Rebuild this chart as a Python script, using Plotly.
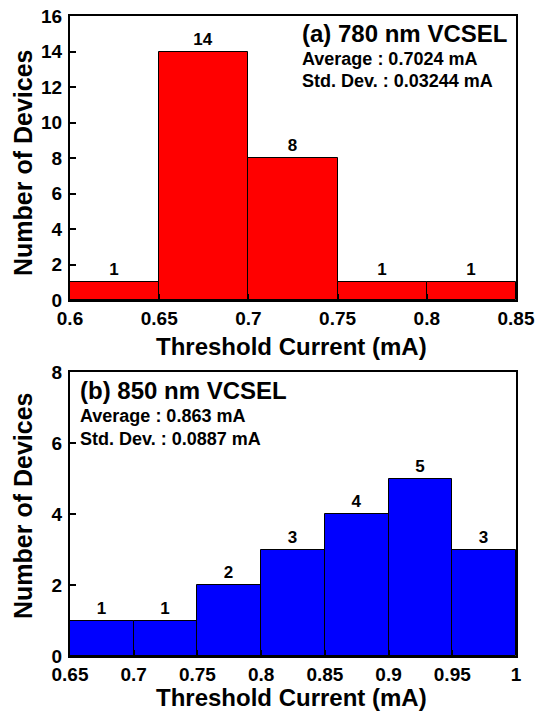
import plotly.graph_objects as go

# Data
bins_a = [0.6, 0.65, 0.7, 0.75, 0.8]          # left edges (mA)
counts_a = [1, 14, 8, 1, 1]
bins_b = [0.65, 0.7, 0.75, 0.8, 0.85, 0.9, 0.95]
counts_b = [1, 1, 2, 3, 4, 5, 3]
bin_width = 0.05

xticks_a = [0.6, 0.65, 0.7, 0.75, 0.8, 0.85]
xticklabels_a = ["0.6", "0.65", "0.7", "0.75", "0.8", "0.85"]
xticks_b = [0.65, 0.7, 0.75, 0.8, 0.85, 0.9, 0.95, 1.0]
xticklabels_b = ["0.65", "0.7", "0.75", "0.8", "0.85", "0.9", "0.95", "1"]
yticks_a = [0, 2, 4, 6, 8, 10, 12, 14, 16]
yticks_b = [0, 2, 4, 6, 8]

label_a = ["(a) 780 nm VCSEL", "Average : 0.7024 mA", "Std. Dev. : 0.03244 mA"]
label_b = ["(b) 850 nm VCSEL", "Average : 0.863 mA", "Std. Dev. : 0.0887 mA"]
xtitle = "Threshold Current (mA)"
ytitle = "Number of Devices"

FONT = "Liberation Sans, Arial, sans-serif"

fig = go.Figure()

centers_a = [b + bin_width / 2 for b in bins_a]
centers_b = [b + bin_width / 2 for b in bins_b]

fig.add_trace(go.Bar(
    x=centers_a, y=counts_a, width=[bin_width] * len(counts_a),
    marker=dict(color="#FF0000", line=dict(color="#000000", width=1)),
    text=[str(c) for c in counts_a], textposition="outside",
    textfont=dict(size=17, color="black", family=FONT, weight="bold"),
    cliponaxis=False, xaxis="x", yaxis="y", showlegend=False,
))
fig.add_trace(go.Bar(
    x=centers_b, y=counts_b, width=[bin_width] * len(counts_b),
    marker=dict(color="#0000FF", line=dict(color="#000000", width=1)),
    text=[str(c) for c in counts_b], textposition="outside",
    textfont=dict(size=17, color="black", family=FONT, weight="bold"),
    cliponaxis=False, xaxis="x2", yaxis="y2", showlegend=False,
))

axis_common = dict(
    showline=True, linecolor="black", linewidth=2, mirror=True,
    ticks="inside", ticklen=6, tickwidth=2, tickcolor="black",
    showgrid=False, zeroline=False, automargin=False,
    tickfont=dict(size=19, color="black", family=FONT, weight="bold"),
)

fig.update_layout(
    width=538, height=713,
    margin=dict(l=70, r=22, t=16, b=57, autoexpand=False),
    paper_bgcolor="white", plot_bgcolor="white",
    font=dict(family=FONT, color="black"),
    bargap=0,
    xaxis=dict(domain=[0, 1], anchor="y", range=[0.6, 0.85],
               tickvals=xticks_a, ticktext=xticklabels_a,
               ticklabelstandoff=0, **axis_common),
    yaxis=dict(domain=[0.55625, 1], anchor="x", range=[0, 16],
               tickvals=yticks_a, ticklabelstandoff=2, **axis_common),
    xaxis2=dict(domain=[0, 1], anchor="y2", range=[0.65, 1.0],
                tickvals=xticks_b, ticktext=xticklabels_b,
                ticklabelstandoff=0, **axis_common),
    yaxis2=dict(domain=[0, 0.44375], anchor="x2", range=[0, 8],
                tickvals=yticks_b, ticklabelstandoff=2, **axis_common),
)

def px_to_fx(px):
    return (px - 70) / 446

def py_to_fy(py):
    return (656 - py) / 640

anns = []
# axis titles
for cy in (346, 697):
    anns.append(dict(text=xtitle, x=px_to_fx(291), y=py_to_fy(cy), xref="paper", yref="paper",
                     xanchor="center", yanchor="middle", showarrow=False,
                     font=dict(size=24, family=FONT, weight="bold", color="black")))
for cy in (163, 506):
    anns.append(dict(text=ytitle, x=px_to_fx(23), y=py_to_fy(cy), xref="paper", yref="paper",
                     xanchor="center", yanchor="middle", showarrow=False, textangle=-90,
                     font=dict(size=25, family=FONT, weight="bold", color="black")))

# info labels
sizes = [24, 18, 18]
for txt, cy, s in zip(label_a, (33, 59, 81), sizes):
    anns.append(dict(text=txt, x=px_to_fx(300), y=py_to_fy(cy), xref="paper", yref="paper",
                     xanchor="left", yanchor="middle", showarrow=False,
                     font=dict(size=s, family=FONT, weight="bold", color="black")))
for txt, cy, s in zip(label_b, (390, 416, 439), sizes):
    anns.append(dict(text=txt, x=px_to_fx(78), y=py_to_fy(cy), xref="paper", yref="paper",
                     xanchor="left", yanchor="middle", showarrow=False,
                     font=dict(size=s, family=FONT, weight="bold", color="black")))

fig.update_layout(annotations=anns)

fig.write_html("out.html", config={"displayModeBar": False},
               post_script="document.body.style.margin='0';document.body.style.overflow='hidden';")
